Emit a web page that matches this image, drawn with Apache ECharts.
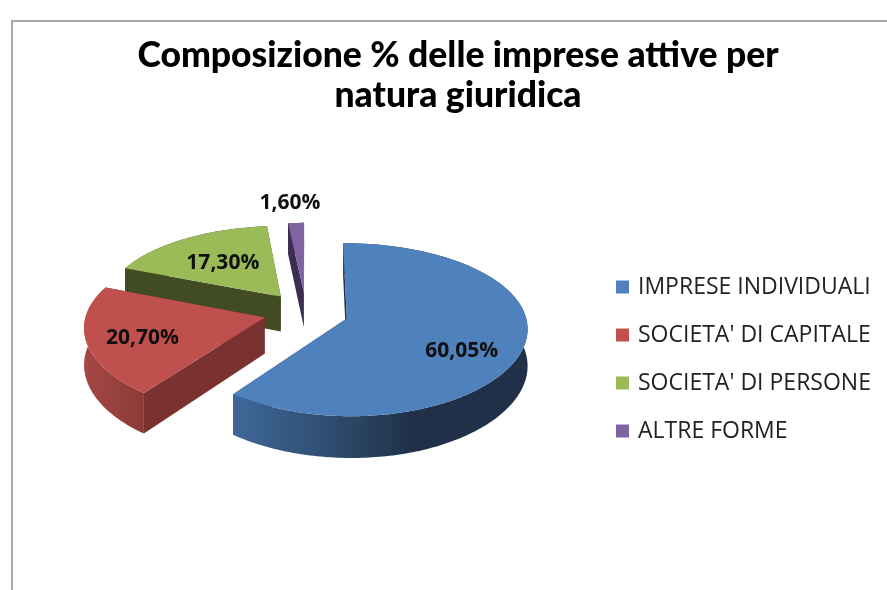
<!DOCTYPE html>
<html>
<head>
<meta charset="utf-8">
<style>html,body{margin:0;padding:0;background:#fff}#c{width:887px;height:590px}</style>
<script src="https://cdn.jsdelivr.net/npm/echarts@6/dist/echarts.min.js"></script>
</head>
<body>
<div id="c"></div>
<script>
const categories = ["IMPRESE INDIVIDUALI", "SOCIETA' DI CAPITALE", "SOCIETA' DI PERSONE", "ALTRE FORME"];
const values = [60.05, 20.70, 17.30, 1.60];
const valueLabels = ["60,05%", "20,70%", "17,30%", "1,60%"];
const titleText = "Composizione % delle imprese attive per\nnatura giuridica";

const topColors = ["#4f81bd", "#c0504d", "#9bbb59", "#8064a2"];
const edgeColors = ["#1f3048", "#7a3230", "#414c23", "#3b2e52"];
const wallStops = [
  [[0, "#3f6899"], [0.38, "#2c4868"], [0.62, "#1f3048"], [1, "#1f3048"]],
  [[0, "#a64744"], [1, "#8a3a38"]],
  [[0, "#414c23"], [1, "#414c23"]],
  [[0, "#3b2e52"], [1, "#3b2e52"]]
];
const labelAngle = [121, 250.5, 321.5, 356];
const labelRadius = [0.71, 0.70, 0.566, 1.33];

const CX = 306, CY = 312, RX = 178, RY = 83.4, K = 0.129, KX = 0.1, EXPLODE = 0.24, DEPTH = 36;
const total = values.reduce((a, b) => a + b, 0);
const rad = d => d * Math.PI / 180;

function project(X, Y) {
  const s = 1 / (1 + K * Y);
  const sx = 1 / (1 + KX * Y);
  return [CX + RX * X * sx, CY - RY * Y * s, s];
}

function sliceRender(index) {
  return function () {
    let before = 0;
    for (let i = 0; i < index; i++) before += values[i];
    const a0 = before / total * 360;
    const a1 = (before + values[index]) / total * 360;
    const mid = (a0 + a1) / 2;
    const ox = EXPLODE * Math.sin(rad(mid));
    const oy = EXPLODE * Math.cos(rad(mid));
    const apex = project(ox, oy);
    const arc = [];
    const n = Math.max(4, Math.ceil(a1 - a0));
    for (let i = 0; i <= n; i++) {
      const t = rad(a0 + (a1 - a0) * i / n);
      arc.push(project(ox + Math.sin(t), oy + Math.cos(t)));
    }
    const down = p => [p[0], p[1] + DEPTH * p[2]];
    const flat = p => [p[0], p[1]];
    const first = arc[0], last = arc[arc.length - 1];
    const xs = arc.map(p => p[0]);
    const minX = Math.min(...xs), maxX = Math.max(...xs);
    const wallFill = {
      type: "linear", global: true, x: minX, y: 0, x2: maxX, y2: 0,
      colorStops: wallStops[index].map(s => ({ offset: s[0], color: s[1] }))
    };
    const poly = (pts, fill) => ({ type: "polygon", shape: { points: pts }, style: { fill: fill } });
    const lp = (function () {
      const t = rad(labelAngle[index]);
      return project(ox + labelRadius[index] * Math.sin(t), oy + labelRadius[index] * Math.cos(t));
    })();
    return {
      type: "group",
      children: [
        poly([flat(apex), flat(first), down(first), down(apex)], edgeColors[index]),
        poly([flat(apex), flat(last), down(last), down(apex)], edgeColors[index]),
        poly(arc.map(flat).concat(arc.slice().reverse().map(down)), wallFill),
        poly([flat(apex)].concat(arc.map(flat)), topColors[index]),
        {
          type: "text",
          style: {
            text: valueLabels[index], x: lp[0], y: lp[1],
            textAlign: "center", textVerticalAlign: "middle",
            fontFamily: "Open Sans", fontWeight: 700, fontSize: 21, fill: "#101010"
          }
        }
      ]
    };
  };
}

const series = categories.map((name, i) => ({
  type: "custom",
  name: name,
  coordinateSystem: "none",
  z: 10 - i,
  silent: true,
  animation: false,
  itemStyle: { color: topColors[i] },
  data: [values[i]],
  renderItem: sliceRender(i)
}));

const chart = echarts.init(document.getElementById("c"), null, { renderer: "canvas" });
chart.setOption({
  backgroundColor: "#fff",
  animation: false,
  title: {
    text: titleText, left: 453, top: 31, textAlign: "center",
    textStyle: { fontFamily: "Lato", fontWeight: 900, fontSize: 35.5, lineHeight: 40, color: "#000" }
  },
  legend: {
    orient: "vertical", left: 611, top: 270, icon: "rect",
    itemWidth: 13, itemHeight: 13, itemGap: 24,
    data: categories,
    textStyle: { fontFamily: "Open Sans", fontSize: 23, color: "#222", lineHeight: 24, padding: [0, 0, 0, 4] }
  },
  graphic: [
    { type: "line", shape: { x1: 12, y1: 21, x2: 887, y2: 21 }, style: { stroke: "#a8a8a8", lineWidth: 2 } },
    { type: "line", shape: { x1: 12, y1: 20, x2: 12, y2: 590 }, style: { stroke: "#a8a8a8", lineWidth: 2 } }
  ],
  series: series
});
</script>
</body>
</html>
